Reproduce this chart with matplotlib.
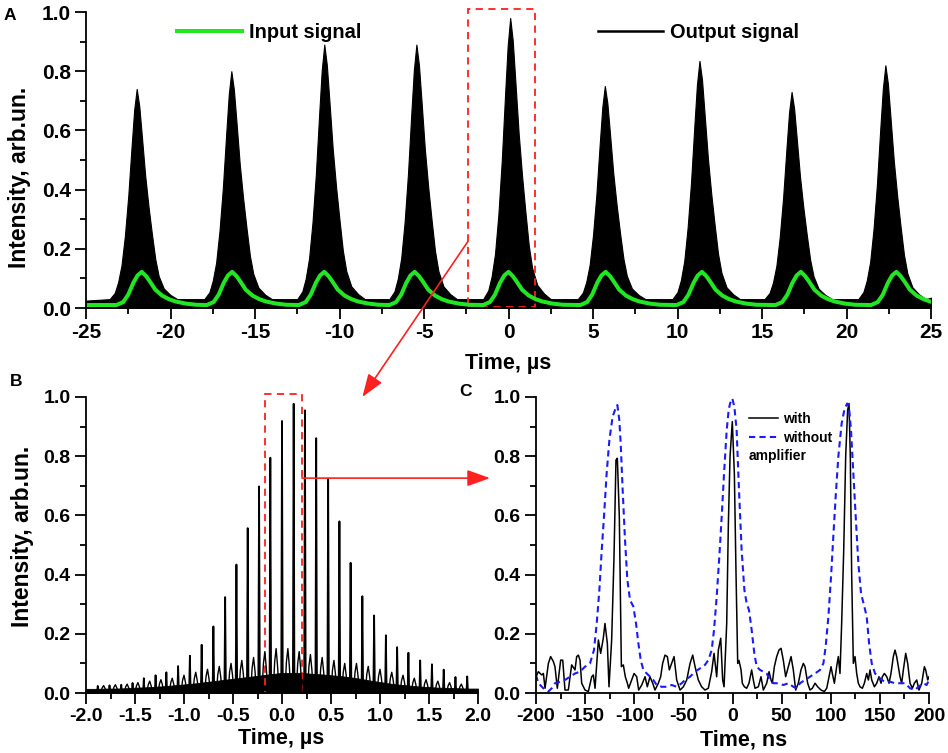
import matplotlib
matplotlib.use("Agg")
import matplotlib.pyplot as plt
from matplotlib.lines import Line2D
from matplotlib.patches import Rectangle, ConnectionPatch
from matplotlib.ticker import MultipleLocator, FormatStrFormatter

plt.rcParams['font.family'] = ['Liberation Sans', 'DejaVu Sans']
plt.rcParams['font.weight'] = 'bold'
plt.rcParams['axes.labelweight'] = 'bold'

# ---------------- panel A data (time in us) ----------------
a_out_centers = [-22.0, -16.4, -10.9, -5.45, 0.1, 5.7, 11.3, 16.75, 22.3]
a_out_offsets = [-1.6, -1.3, -1.1, -0.9, -0.7, -0.5, -0.3, -0.15, 0.0, 0.15, 0.3, 0.5,
                 0.7, 0.9, 1.1, 1.3, 1.6, 2.0, 2.4]
a_out_values = [
    [.03, .051, .087, .144, .243, .378, .548, .669, .74, .683, .584, .449, .342, .250, .165, .108, .066, .044, .03],
    [.03, .053, .092, .153, .261, .407, .592, .723, .80, .738, .631, .484, .369, .269, .176, .115, .069, .045, .03],
    [.03, .056, .099, .168, .288, .451, .658, .804, .89, .821, .701, .537, .408, .297, .193, .125, .073, .047, .03],
    [.03, .056, .099, .168, .288, .451, .658, .804, .89, .821, .701, .537, .408, .297, .193, .125, .073, .047, .03],
    [.03, .059, .106, .182, .315, .496, .724, .885, .98, .904, .771, .591, .448, .325, .211, .135, .078, .049, .03],
    [.03, .052, .088, .145, .246, .383, .556, .678, .75, .692, .592, .455, .347, .253, .167, .109, .066, .044, .03],
    [.03, .054, .094, .159, .272, .424, .618, .755, .835, .771, .658, .505, .384, .280, .183, .119, .070, .046, .03],
    [.03, .051, .086, .142, .240, .373, .541, .660, .73, .674, .576, .443, .338, .247, .163, .107, .065, .044, .03],
    [.03, .054, .093, .156, .267, .417, .607, .741, .82, .757, .646, .496, .378, .275, .180, .117, .070, .046, .03],
]
a_in_centers = [-21.7, -16.35, -10.9, -5.55, 0.0, 5.75, 11.45, 17.3, 22.95]
a_in_offsets = [-1.5, -1.1, -0.8, -0.5, -0.25, 0.0, 0.25, 0.5, 0.8, 1.2, 1.6, 2.0, 2.6, 3.2]
a_in_values = [0.010, 0.020, 0.045, 0.085, 0.110, 0.122, 0.108, 0.088, 0.062, 0.042, 0.030, 0.022, 0.015, 0.011]

# ---------------- panel B data (time in us) ----------------
b_spike_t = [-1.88, -1.76, -1.64, -1.525, -1.41, -1.29, -1.18, -1.06, -0.94, -0.82, -0.70,
             -0.58, -0.465, -0.35, -0.234, -0.119, 0.0, 0.119, 0.234, 0.349, 0.471, 0.586,
             0.70, 0.82, 0.94, 1.06, 1.175, 1.29, 1.41, 1.53, 1.65, 1.77, 1.89]
b_spike_h = [0.024, 0.026, 0.028, 0.034, 0.05, 0.06, 0.07, 0.091, 0.126, 0.163, 0.225,
             0.324, 0.434, 0.557, 0.698, 0.795, 0.919, 0.977, 0.955, 0.861, 0.724, 0.58,
             0.44, 0.327, 0.262, 0.195, 0.155, 0.136, 0.11, 0.097, 0.079, 0.054, 0.056]
# smaller noise bursts between the main spikes
b_noise_t = [-1.82, -1.70, -1.58, -1.47, -1.35, -1.235, -1.12, -1.00, -0.88, -0.76, -0.64,
             -0.52, -0.41, -0.29, -0.175, -0.06, 0.06, 0.175, 0.29, 0.41, 0.53, 0.64, 0.76,
             0.88, 1.00, 1.12, 1.235, 1.35, 1.47, 1.59, 1.71, 1.83]
b_noise_h = [0.025, 0.028, 0.03, 0.035, 0.04, 0.045, 0.05, 0.06, 0.07, 0.08, 0.09,
             0.10, 0.11, 0.12, 0.14, 0.15, 0.15, 0.14, 0.13, 0.12, 0.11, 0.10, 0.10,
             0.09, 0.08, 0.07, 0.06, 0.05, 0.045, 0.04, 0.035, 0.03]
b_bg_t = [-2.0, -1.9, -1.8, -1.7, -1.6, -1.5, -1.4, -1.3, -1.2, -1.1, -1.0, -0.9, -0.8, -0.7,
          -0.6, -0.5, -0.4, -0.3, -0.2, -0.1, 0.0, 0.1, 0.2, 0.3, 0.4, 0.5, 0.6, 0.7, 0.8,
          0.9, 1.0, 1.1, 1.2, 1.3, 1.4, 1.5, 1.6, 1.7, 1.8, 1.9, 2.0]
b_bg_v = [0.014, 0.014, 0.015, 0.015, 0.016, 0.018, 0.019, 0.021, 0.023, 0.026, 0.029, 0.032,
          0.036, 0.040, 0.044, 0.048, 0.052, 0.056, 0.06, 0.064, 0.068, 0.068, 0.068, 0.065,
          0.063, 0.06, 0.057, 0.053, 0.048, 0.042, 0.037, 0.032, 0.028, 0.025, 0.022, 0.02,
          0.018, 0.017, 0.016, 0.015, 0.015]

# ---------------- panel C data (time in ns) ----------------
c_with_t = [-200, -197.6, -194.2, -192.5, -190.8, -187.4, -185.1, -182.3, -180.7, -178.3,
            -174.9, -172.8, -170.5, -167.1, -163.7, -160.3, -158.6, -156.9, -155.2, -153.5,
            -150.1, -146.7, -143.3, -141.6, -139.9, -136.5, -134.2, -131.5, -129.8, -127.4,
            -125.7, -123.0, -120.6, -118.6, -117.2, -115.2, -113.1, -111.1, -109.1, -107.0,
            -105.7, -102.6, -100.2, -97.5, -95.5, -92.4, -89.0, -86.7, -84.0, -81.2,
            -78.9, -75.5, -73.1, -71.1, -68.7, -66.3, -64.3, -61.9, -59.5, -56.8,
            -53.4, -50.0, -46.6, -43.2, -40.5, -38.1, -34.8, -31.4, -28.0, -24.6,
            -21.2, -18.8, -16.1, -14.4, -12.0, -10.0, -8.6, -5.9,
            -4.2, -2.5, -0.2, 1.9, 3.6, 5.3, 6.6, 8.7, 10.0, 12.1,
            14.4, 16.8, 19.5, 21.2, 22.9, 26.3, 29.0, 31.4, 34.8, 37.2,
            39.2, 40.5, 42.6, 45.0, 47.3, 49.4, 51.7, 54.1, 56.8, 59.6,
            61.9, 64.3, 67.0, 69.7, 72.1, 73.8, 76.5, 78.9, 81.3, 84.0,
            86.7, 90.1, 93.5, 95.9, 98.2, 100.3, 101.6, 103.7, 106.0, 107.7,
            109.4, 111.1, 113.2, 115.2, 117.2, 118.6, 119.9, 121.3, 123.0, 124.7,
            126.4, 128.1, 129.8, 132.2, 134.2, 136.6, 138.3, 140.0, 141.7, 144.4,
            146.8, 149.1, 151.2, 152.5, 154.6, 157.0, 159.3, 161.3, 163.7, 165.4,
            167.1, 168.8, 170.5, 172.2, 173.9, 176.3, 178.3, 180.7, 183.1, 185.1,
            187.5, 189.8, 192.6, 195.3, 196.6, 198.7, 200]
c_with_v = [0.055, 0.072, 0.061, 0.066, 0.016, 0.10, 0.123, 0.106, 0.089, 0.016,
            0.111, 0.111, 0.01, 0.01, 0.095, 0.078, 0.123, 0.128, 0.111, 0.033,
            0.01, 0.005, 0.055, 0.061, 0.016, 0.179, 0.134, 0.185, 0.235, 0.168,
            0.021, 0.179, 0.461, 0.787, 0.793, 0.596, 0.089, 0.095, 0.055, 0.033,
            0.016, 0.044, 0.066, 0.055, 0.01, 0.027, 0.055, 0.021, 0.055, 0.033,
            0.01, 0.033, 0.055, 0.10, 0.128, 0.123, 0.078, 0.10, 0.123, 0.044,
            0.01, 0.021, 0.044, 0.10, 0.128, 0.089, 0.044, 0.021, 0.01, 0.016,
            0.072, 0.134, 0.055, 0.145, 0.185, 0.044, 0.021, 0.235,
            0.573, 0.80, 0.917, 0.74, 0.40, 0.10, 0.11, 0.078, 0.033, 0.021,
            0.016, 0.033, 0.078, 0.044, 0.016, 0.021, 0.055, 0.01, 0.033, 0.072,
            0.044, 0.033, 0.089, 0.123, 0.145, 0.151, 0.111, 0.055, 0.089, 0.123,
            0.078, 0.01, 0.033, 0.078, 0.10, 0.089, 0.033, 0.01, 0.016, 0.033,
            0.021, 0.01, 0.005, 0.016, 0.055, 0.089, 0.066, 0.033, 0.089, 0.123,
            0.066, 0.235, 0.483, 0.80, 0.956, 0.978, 0.80, 0.40, 0.10, 0.123,
            0.066, 0.033, 0.021, 0.016, 0.033, 0.066, 0.044, 0.078, 0.044, 0.021,
            0.033, 0.055, 0.033, 0.055, 0.066, 0.055, 0.033, 0.066, 0.123, 0.145,
            0.123, 0.089, 0.055, 0.033, 0.078, 0.134, 0.10, 0.033, 0.016, 0.033,
            0.044, 0.01, 0.033, 0.089, 0.078, 0.044, 0.055]
c_wo_t = [-200, -197.6, -192.5, -187.4, -184.0, -180.7, -175.6, -170.5, -165.4, -160.3,
          -155.2, -150.1, -145.0, -141.0, -138.2, -135.5, -133.1, -130.8, -128.1, -125.3,
          -122.0, -119.6, -117.2, -115.2, -113.8, -111.8, -109.4, -107.0, -104.3, -100.9,
          -98.2, -95.8, -93.4, -90.7, -87.3, -83.9, -80.6, -77.2, -72.1, -67.0,
          -61.9, -56.8, -51.7, -48.3, -43.2, -38.1, -33.1, -28.0, -24.6, -21.2,
          -18.8, -16.1, -13.4, -11.0, -8.6, -5.9, -3.9, -2.5, -0.2, 1.9,
          4.2, 6.6, 9.3, 12.1, 14.4, 16.8, 19.5, 22.2, 24.6, 28.0,
          31.4, 34.8, 38.2, 41.6, 46.7, 51.8, 56.8, 61.9, 65.3, 68.7,
          73.8, 78.9, 84.0, 89.1, 92.5, 94.8, 97.6, 100.3, 102.6, 105.0,
          107.7, 111.1, 113.8, 116.6, 118.6, 120.6, 123.0, 125.4, 128.1, 130.8,
          134.2, 136.6, 139.0, 141.7, 145.1, 148.4, 151.8, 155.2, 160.3, 165.4,
          170.5, 175.6, 180.7, 185.8, 189.2, 194.3, 197.6, 200]
c_wo_v = [0.061, 0.033, 0.016, 0.005, 0.016, 0.033, 0.038, 0.044, 0.055, 0.066,
          0.072, 0.089, 0.10, 0.145, 0.235, 0.348, 0.483, 0.596, 0.742, 0.855,
          0.934, 0.956, 0.973, 0.922, 0.843, 0.686, 0.517, 0.382, 0.314, 0.292,
          0.235, 0.168, 0.111, 0.078, 0.066, 0.055, 0.044, 0.027, 0.021, 0.021,
          0.027, 0.021, 0.033, 0.044, 0.055, 0.072, 0.083, 0.095, 0.111, 0.145,
          0.213, 0.325, 0.461, 0.596, 0.742, 0.888, 0.956, 0.978, 0.995, 0.967,
          0.888, 0.686, 0.483, 0.348, 0.303, 0.28, 0.213, 0.134, 0.089, 0.078,
          0.072, 0.066, 0.044, 0.033, 0.033, 0.027, 0.033, 0.021, 0.016, 0.033,
          0.044, 0.055, 0.066, 0.078, 0.10, 0.156, 0.258, 0.393, 0.528, 0.663,
          0.798, 0.911, 0.956, 0.978, 0.967, 0.888, 0.742, 0.596, 0.438, 0.337,
          0.292, 0.258, 0.168, 0.10, 0.066, 0.055, 0.044, 0.038, 0.038, 0.033,
          0.033, 0.033, 0.016, 0.01, 0.021, 0.033, 0.027, 0.044]

GREEN = '#22e622'
RED = '#ff2020'


def style_axes(ax, major_x, minor_x, size):
    for side in ['top', 'right']:
        ax.spines[side].set_visible(False)
    for side in ['left', 'bottom']:
        ax.spines[side].set_linewidth(1.3)
    ax.xaxis.set_major_locator(MultipleLocator(major_x))
    ax.xaxis.set_minor_locator(MultipleLocator(minor_x))
    ax.yaxis.set_major_locator(MultipleLocator(0.2))
    ax.yaxis.set_minor_locator(MultipleLocator(0.1))
    ax.yaxis.set_major_formatter(FormatStrFormatter('%.1f'))
    ax.tick_params(which='major', direction='out', length=8, width=1.3, labelsize=size, pad=3)
    ax.tick_params(which='minor', direction='out', length=4.5, width=1.3)
    ax.tick_params(top=False, right=False)


fig = plt.figure(figsize=(9.48, 7.53), dpi=100)
axA = fig.add_axes([86 / 948, 1 - 308 / 753, 845 / 948, 296 / 753])
axB = fig.add_axes([86 / 948, 1 - 693 / 753, 392 / 948, 296 / 753])
axC = fig.add_axes([536 / 948, 1 - 693 / 753, 393 / 948, 296 / 753])

# ---- A ----
out_t, out_v = [-25.0], [0.025]
for c, row in zip(a_out_centers, a_out_values):
    out_t += [c + o for o in a_out_offsets]
    out_v += row
out_t.append(25.0)
out_v.append(0.035)
in_t, in_v = [-25.0], [0.010]
for c in a_in_centers:
    in_t += [c + o for o in a_in_offsets]
    in_v += a_in_values

axA.fill_between(out_t, 0, out_v, color='black', lw=0.8)
axA.plot(in_t, in_v, color=GREEN, lw=2.9)
axA.set_xlim(-25, 25)
axA.set_ylim(0, 1.0)
style_axes(axA, 5, 2.5, 15)
axA.xaxis.set_major_formatter(FormatStrFormatter('%d'))
axA.set_xlabel('Time, µs', fontsize=15.5)
axA.set_ylabel('Intensity, arb.un.', fontsize=16.5)
axA.xaxis.set_label_coords(0.5, -0.186)
axA.xaxis.label.set_va('center')
axA.yaxis.set_label_coords(-0.079, 0.44)
axA.yaxis.label.set_va('center')
handles = [Line2D([], [], color=GREEN, lw=2.9), Line2D([], [], color='black', lw=1.8)]
axA.legend(handles, ['Input signal', 'Output signal'], ncol=2, frameon=False,
           loc='center left', bbox_to_anchor=(0.108, 0.932), borderpad=0, borderaxespad=0,
           handlelength=3.25, handletextpad=0.35, columnspacing=11.8,
           prop={'size': 14.4, 'weight': 'bold'})
axA.add_patch(Rectangle((-2.4, 0.003), 3.97, 1.006, fill=False, ec=RED,
                        ls=(0, (4, 3)), lw=1.3, clip_on=False))

# ---- B ----
axB.fill_between(b_bg_t, 0, b_bg_v, color='black', lw=0.6)
for t, h in zip(b_noise_t, b_noise_h):
    axB.plot([t - 0.03, t - 0.015, t, t + 0.015, t + 0.03],
             [0.0, h * 0.7, h, h * 0.6, 0.0], color='black', lw=1.0)
for t, h in zip(b_spike_t, b_spike_h):
    axB.plot([t - 0.008, t, t + 0.008], [0.0, h, 0.0], color='black', lw=1.3)
axB.set_xlim(-2.0, 2.0)
axB.set_ylim(0, 1.0)
style_axes(axB, 0.5, 0.25, 14)
axB.xaxis.set_major_formatter(FormatStrFormatter('%.1f'))
axB.set_xlabel('Time, µs', fontsize=15.5)
axB.set_ylabel('Intensity, arb.un.', fontsize=16.5)
axB.xaxis.set_label_coords(0.499, -0.155)
axB.xaxis.label.set_va('center')
axB.yaxis.set_label_coords(-0.161, 0.53)
axB.yaxis.label.set_va('center')
axB.add_patch(Rectangle((-0.174, 0.0), 0.378, 1.01, fill=False, ec=RED,
                        ls=(0, (4, 3)), lw=1.3, clip_on=False))

# ---- C ----
axC.plot(c_with_t, c_with_v, color='black', lw=1.1, label='with')
axC.plot(c_wo_t, c_wo_v, color='#1a1aff', lw=1.5, ls=(0, (3, 2)), label='without')
axC.set_xlim(-200, 200)
axC.set_ylim(0, 1.0)
style_axes(axC, 50, 25, 14)
axC.xaxis.set_major_formatter(FormatStrFormatter('%d'))
axC.set_xlabel('Time, ns', fontsize=15.5)
axC.xaxis.set_label_coords(0.529, -0.159)
axC.xaxis.label.set_va('center')
axC.legend(frameon=False, loc='center left', bbox_to_anchor=(0.542, 0.894),
           borderpad=0, borderaxespad=0, handlelength=2.1, handletextpad=0.35,
           labelspacing=0.35, prop={'size': 10, 'weight': 'bold'})
axC.text(0.542, 0.80, 'amplifier', transform=axC.transAxes, ha='left', va='center',
         fontsize=10, fontweight='bold')

# ---- red arrows between panels ----
arrow_style = '-|>,head_length=0.7,head_width=0.25'
fig.add_artist(ConnectionPatch(xyA=(-2.4, 0.225), coordsA=axA.transData,
                               xyB=(0.82, 1.0), coordsB=axB.transData,
                               arrowstyle=arrow_style, mutation_scale=20,
                               color=RED, lw=1.2))
fig.add_artist(ConnectionPatch(xyA=(0.204, 0.726), coordsA=axB.transData,
                               xyB=(-246.8, 0.726), coordsB=axC.transData,
                               arrowstyle=arrow_style, mutation_scale=20,
                               color=RED, lw=1.2))

# ---- panel letters ----
for label, x, y in [('A', 10, 15), ('B', 16, 381), ('C', 466, 391)]:
    fig.text(x / 948, 1 - y / 753, label, ha='center', va='center',
             fontsize=12.5, fontweight='bold')

fig.savefig('out.png', dpi=100)
